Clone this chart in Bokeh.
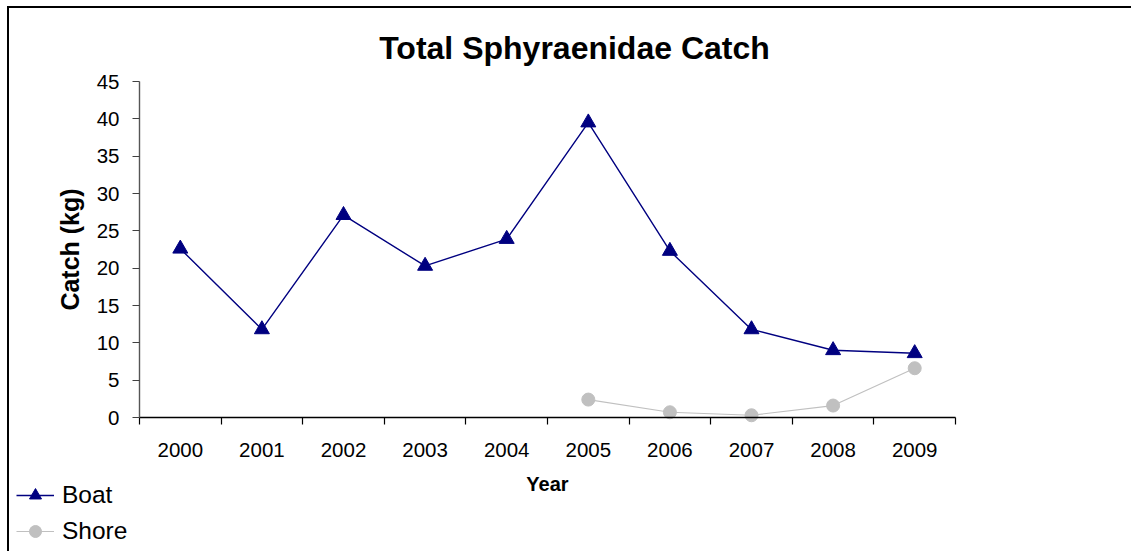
import numpy as np
from bokeh.plotting import figure
from bokeh.models import (ColumnDataSource, Range1d, FixedTicker, Legend, LegendItem,
                          LinearAxis, Label)
from bokeh.embed import file_html
from bokeh.resources import INLINE

# ---- data ----
years = ["2000", "2001", "2002", "2003", "2004", "2005", "2006", "2007", "2008", "2009"]
boat = [22.6, 11.8, 27.1, 20.3, 23.9, 39.5, 22.3, 11.8, 9.0, 8.6]
shore = [np.nan, np.nan, np.nan, np.nan, np.nan, 2.4, 0.7, 0.3, 1.6, 6.6]
y_ticks = [0, 5, 10, 15, 20, 25, 30, 35, 40, 45]
y_max = 45

FONT = "Liberation Sans"

# ---- layout (pixels) ----
W, H = 1124, 545            # canvas size
OX, OY = 9, 8               # canvas origin on the page (margin + border)
AX_L, AX_R, AX_T, AX_B = 139, 955, 81, 417   # plot area on the page
ncat = len(years)
sx = (AX_R - AX_L) / ncat
sy = (AX_B - AX_T) / y_max
x0 = -(AX_L - OX) / sx
x1 = x0 + W / sx
y1 = y_max + (AX_T - OY) / sy
y0 = y1 - H / sy

xpos = [i + 0.5 for i in range(ncat)]
src = ColumnDataSource(dict(x=xpos, year=years, boat=boat, shore=shore))

p = figure(width=W, height=H, output_backend="svg", toolbar_location=None,
           x_range=Range1d(x0, x1), y_range=Range1d(y0, y1),
           x_axis_type=None, y_axis_type=None,
           min_border=0)
p.styles = {"border-top": "2px solid #000000", "border-left": "2px solid #000000",
            "margin-left": "7px", "margin-top": "6px"}
p.outline_line_color = None
p.background_fill_color = "white"
p.border_fill_color = "white"
p.xgrid.visible = False
p.ygrid.visible = False

# x axis: labels at centers, ticks at category boundaries
xax = LinearAxis(fixed_location=0, bounds=(0, ncat),
                 ticker=FixedTicker(ticks=xpos, minor_ticks=list(range(ncat + 1))),
                 major_label_overrides={x: y for x, y in zip(xpos, years)},
                 major_tick_line_color=None, major_tick_out=0, major_tick_in=0,
                 minor_tick_out=7, minor_tick_in=0, minor_tick_line_color="#000000",
                 minor_tick_line_width=1.2,
                 major_label_standoff=18, axis_label="Year", axis_label_standoff=13,
                 axis_label_text_font_size="20px",
                 axis_line_color="#000000", axis_line_width=1.3)
yax = LinearAxis(fixed_location=0, bounds=(0, y_max),
                 ticker=FixedTicker(ticks=y_ticks, minor_ticks=[]),
                 major_tick_out=7, major_tick_in=0, major_tick_line_color="#404040",
                 major_tick_line_width=1.2,
                 minor_tick_line_color=None, major_label_standoff=13,
                 axis_label="Catch (kg)", axis_label_standoff=10,
                 axis_label_text_font_size="25px",
                 axis_line_color="#555555", axis_line_width=1.4)
for ax in (xax, yax):
    ax.major_label_text_font = FONT
    ax.major_label_text_font_size = "20.5px"
    ax.major_label_text_color = "#000000"
    ax.axis_label_text_font = FONT
    ax.axis_label_text_font_style = "bold"
    ax.axis_label_text_color = "#000000"
p.add_layout(xax, "below")
p.add_layout(yax, "left")

# title
title = Label(x=574 - OX, y=H - (47.7 - OY), x_units="screen", y_units="screen",
              text="Total Sphyraenidae Catch", text_font=FONT, text_font_size="32px",
              text_font_style="bold", text_color="#000000",
              text_align="center", text_baseline="alphabetic")
p.add_layout(title)

# series
bl = p.line("x", "boat", source=src, line_color="#000080", line_width=1.4)
bm = p.scatter("x", "boat", source=src, marker="triangle", size=15,
               fill_color="#000080", line_color="#000080")
sl = p.line("x", "shore", source=src, line_color="#C0C0C0", line_width=1.2)
sm = p.scatter("x", "shore", source=src, marker="circle", size=13,
               fill_color="#C0C0C0", line_color="#C0C0C0")

legend = Legend(items=[LegendItem(label="Boat", renderers=[bl, bm]),
                       LegendItem(label="Shore", renderers=[sl, sm])],
                location=(16 - OX, H - (546 - OY)), orientation="vertical",
                padding=0, margin=0, spacing=6,
                glyph_width=38, glyph_height=30, label_height=30,
                label_standoff=8,
                label_text_font=FONT, label_text_font_size="24.5px",
                label_text_color="#000000",
                border_line_color=None, background_fill_alpha=0)
p.add_layout(legend, "center")

open("out.html", "w").write(file_html(p, INLINE))
